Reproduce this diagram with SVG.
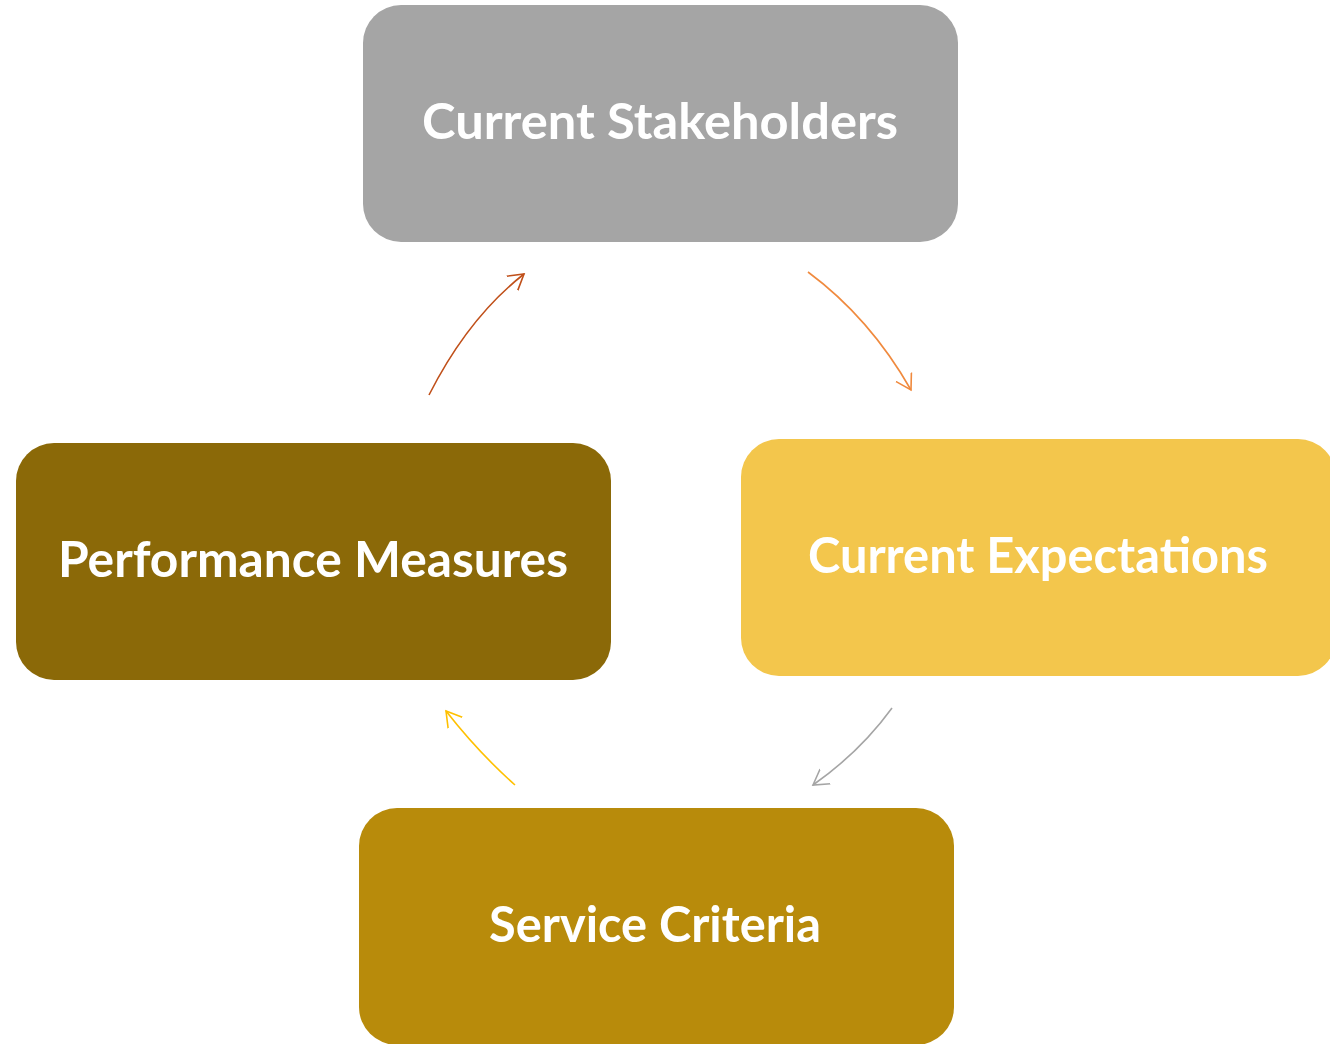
<svg xmlns="http://www.w3.org/2000/svg" width="1330" height="1044" viewBox="0 0 1330 1044">
<style>
.lbl{font-family:Lato,"Open Sans","Liberation Sans",sans-serif;font-weight:700;font-size:50px;fill:#fff;text-anchor:middle}
.c{fill:none;stroke-width:1.6}
</style>
<defs>
<marker id="m1" markerUnits="userSpaceOnUse" markerWidth="30" markerHeight="30" refX="15" refY="15" orient="auto" viewBox="0 0 30 30"><path d="M0,6 L15,15 L0,24" fill="none" stroke="#C0501A" stroke-width="1.6"/></marker>
<marker id="m2" markerUnits="userSpaceOnUse" markerWidth="30" markerHeight="30" refX="15" refY="15" orient="auto" viewBox="0 0 30 30"><path d="M0,6 L15,15 L0,24" fill="none" stroke="#F08A3E" stroke-width="1.6"/></marker>
<marker id="m3" markerUnits="userSpaceOnUse" markerWidth="30" markerHeight="30" refX="15" refY="15" orient="auto" viewBox="0 0 30 30"><path d="M0,6 L15,15 L0,24" fill="none" stroke="#A5A5A5" stroke-width="1.6"/></marker>
<marker id="m4" markerUnits="userSpaceOnUse" markerWidth="30" markerHeight="30" refX="15" refY="15" orient="auto" viewBox="0 0 30 30"><path d="M0,6 L15,15 L0,24" fill="none" stroke="#FFC000" stroke-width="1.6"/></marker>
</defs>
<g id="connectors">
<path class="c" d="M429,395 Q468,318 524,274" stroke="#C0501A" marker-end="url(#m1)"/>
<path class="c" d="M808,272 Q870,318 911,390" stroke="#F08A3E" marker-end="url(#m2)"/>
<path class="c" d="M892,708 Q860,752 813,785" stroke="#A5A5A5" marker-end="url(#m3)"/>
<path class="c" d="M515,785 Q478,752 446,711" stroke="#FFC000" marker-end="url(#m4)"/>
</g>
<g id="stakeholders">
<rect x="363" y="5" width="595" height="237" rx="38" fill="#A5A5A5"/>
<text class="lbl" x="660" y="139" textLength="476" lengthAdjust="spacingAndGlyphs">Current  Stakeholders</text>
</g>
<g id="expectations">
<rect x="741" y="439" width="595" height="237" rx="38" fill="#F3C64C"/>
<text class="lbl" x="1038" y="573" textLength="460" lengthAdjust="spacingAndGlyphs">Current Expectations</text>
</g>
<g id="performance">
<rect x="16" y="443" width="595" height="237" rx="38" fill="#8B6908"/>
<text class="lbl" x="313" y="577" textLength="510" lengthAdjust="spacingAndGlyphs">Performance Measures</text>
</g>
<g id="service">
<rect x="359" y="808" width="595" height="237" rx="38" fill="#B88B0B"/>
<text class="lbl" x="655" y="942" textLength="332" lengthAdjust="spacingAndGlyphs">Service Criteria</text>
</g>
</svg>
